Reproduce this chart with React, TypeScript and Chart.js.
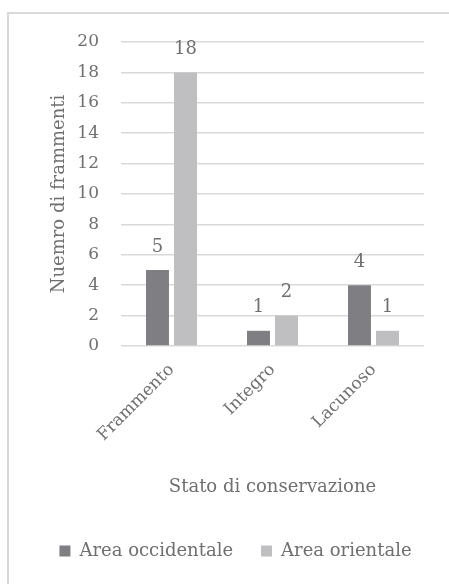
import React, { useEffect, useRef } from "react";
import { Chart, registerables } from "chart.js";

Chart.register(...registerables);

const categories = ["Frammento", "Integro", "Lacunoso"];
const seriesNames = ["Area occidentale", "Area orientale"];
const occidentale = [5, 1, 4];
const orientale = [18, 2, 1];
const colors = ["#7f7f83", "#bfbfc2"];

const FONT = "DejaVu Serif";
const TEXT = "#6f6f6f";

const dataLabels = {
  id: "dataLabels",
  afterDatasetsDraw(chart: any) {
    const ctx = chart.ctx;
    ctx.save();
    ctx.font = `18px "${FONT}"`;
    ctx.fillStyle = TEXT;
    ctx.textAlign = "center";
    ctx.textBaseline = "middle";
    chart.data.datasets.forEach((ds: any, i: number) => {
      const meta = chart.getDatasetMeta(i);
      meta.data.forEach((el: any, j: number) => {
        ctx.fillText(String(ds.data[j]), el.x, el.y - 23);
      });
    });
    ctx.restore();
  },
};

export default function App() {
  const ref = useRef<HTMLCanvasElement>(null);
  useEffect(() => {
    if (!ref.current) return;
    const chart = new Chart(ref.current, {
      type: "bar",
      data: {
        labels: categories,
        datasets: [
          { label: seriesNames[0], data: occidentale, backgroundColor: colors[0], categoryPercentage: 0.555, barPercentage: 0.82 },
          { label: seriesNames[1], data: orientale, backgroundColor: colors[1], categoryPercentage: 0.555, barPercentage: 0.82 },
        ],
      },
      options: {
        responsive: false,
        animation: false,
        layout: { padding: { left: 22, right: 0, top: 42, bottom: 14 } },
        plugins: {
          legend: {
            position: "bottom",
            labels: {
              boxWidth: 11,
              boxHeight: 11,
              padding: 28,
              color: TEXT,
              font: { family: FONT, size: 18 },
            },
          },
          tooltip: { enabled: false },
        },
        scales: {
          y: {
            min: 0,
            max: 20,
            ticks: { stepSize: 2, padding: 22, color: TEXT, font: { family: FONT, size: 17 } },
            grid: { color: "#d9d9d9", lineWidth: 1.5, drawTicks: false },
            border: { display: false },
            title: {
              display: true,
              text: "Nuemro di frammenti",
              color: TEXT,
              font: { family: FONT, size: 18 },
              padding: { top: 27, bottom: 0 },
            },
            afterFit(scale: any) {
              scale.width = 99;
            },
          },
          yRight: {
            type: "linear",
            position: "right",
            display: true,
            grid: { display: false, drawTicks: false },
            ticks: { display: false },
            border: { display: false },
            afterFit(scale: any) {
              scale.width = 25;
            },
          },
          x: {
            ticks: { maxRotation: 45, minRotation: 45, padding: 6, color: TEXT, font: { family: FONT, size: 17 } },
            grid: { display: false },
            border: { display: false },
            title: {
              display: true,
              text: "Stato di conservazione",
              color: TEXT,
              font: { family: FONT, size: 18 },
              padding: { top: 0, bottom: 16 },
            },
            afterFit(scale: any) {
              scale.height = 168;
            },
          },
        },
      },
      plugins: [dataLabels],
    });
    return () => chart.destroy();
  }, []);
  return (
    <div style={{ position: "fixed", left: 0, top: 0, width: 449, height: 584, background: "#fff", overflow: "hidden" }}>
      <div
        style={{
          position: "absolute",
          left: 7,
          top: 12,
          width: 500,
          height: 600,
          borderLeft: "2px solid #d9d9d9",
          borderTop: "2px solid #d9d9d9",
        }}
      />
      <canvas ref={ref} width={449} height={584} style={{ position: "absolute", left: 0, top: 0 }} />
    </div>
  );
}
